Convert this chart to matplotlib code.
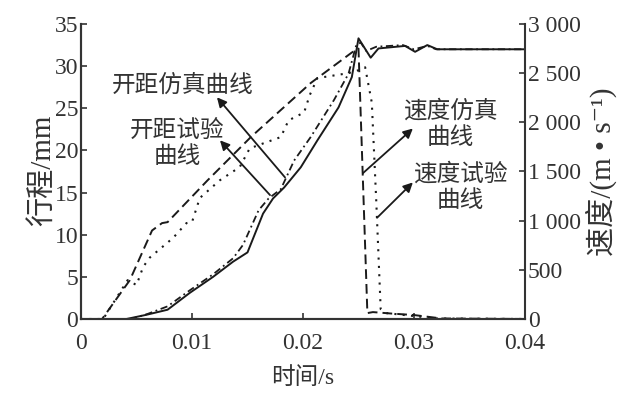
import matplotlib
matplotlib.use('Agg')
import matplotlib.pyplot as plt

plt.rcParams['font.family'] = ['Liberation Serif', 'Noto Sans CJK SC', 'DejaVu Sans']

# 开距 (stroke, mm) - left axis
t_open_sim = [0, 0.0041, 0.0059, 0.0078, 0.0098, 0.0119, 0.0137, 0.0150, 0.0164, 0.0173,
              0.0183, 0.0198, 0.0213, 0.0232, 0.0244, 0.0250, 0.0261, 0.0268, 0.0292,
              0.0301, 0.0312, 0.0321, 0.0400]
s_open_sim = [0, 0, 0.5, 1.1, 3.1, 5.0, 6.8, 7.9, 12.5, 14.3,
              15.6, 18.0, 21.2, 25.1, 28.7, 33.3, 31.0, 32.1, 32.4,
              31.7, 32.5, 32.0, 32.0]

t_open_test = [0, 0.0045, 0.0060, 0.0078, 0.0098, 0.0119, 0.0137, 0.0146, 0.0160, 0.0169,
               0.0180, 0.0192, 0.0207, 0.0228, 0.0241, 0.0248, 0.0252, 0.0257, 0.0266,
               0.0290, 0.0300, 0.0312, 0.0320, 0.0400]
s_open_test = [0, 0, 0.6, 1.5, 3.4, 5.3, 7.2, 8.8, 12.9, 14.3,
               15.4, 18.8, 21.6, 26.0, 29.1, 32.5, 32.8, 31.8, 32.3,
               32.5, 32.0, 32.4, 32.0, 32.0]

# 速度 (m/s) - right axis
t_vel_sim = [0, 0.0019, 0.0044, 0.0064, 0.0073, 0.0078, 0.0114, 0.0153, 0.0207, 0.0244,
             0.0250, 0.0258, 0.0263, 0.0280, 0.0300, 0.0325, 0.0400]
v_vel_sim = [0, 0, 395, 900, 975, 985, 1410, 1850, 2400, 2710,
             2750, 60, 70, 55, 40, 5, 0]

t_vel_test = [0, 0.0020, 0.0042, 0.0050, 0.0056, 0.0062, 0.0083, 0.0095, 0.0100, 0.0107,
              0.0125, 0.0143, 0.0152, 0.0164, 0.0180, 0.0187, 0.0201, 0.0206, 0.0213,
              0.0241, 0.0250, 0.0256, 0.0262, 0.0266, 0.0270, 0.0275, 0.0300, 0.0320, 0.0400]
v_vel_test = [0, 0, 395, 345, 530, 625, 825, 975, 985, 1230,
              1410, 1545, 1735, 1785, 1850, 2020, 2100, 2275, 2450,
              2500, 2530, 2560, 2200, 1200, 100, 60, 30, 5, 0]

x_ticks = [0, 0.01, 0.02, 0.03, 0.04]
x_labels = ['0', '0.01', '0.02', '0.03', '0.04']
left_ticks = [0, 5, 10, 15, 20, 25, 30, 35]
right_ticks = [0, 500, 1000, 1500, 2000, 2500, 3000]
right_labels = ['0', '500', '1 000', '1 500', '2 000', '2 500', '3 000']

ink = '#1a1a1a'
fig = plt.figure(figsize=(6.3, 3.94), dpi=100)
ax = fig.add_axes([0.1286, 0.1904, 0.7047, 0.7487])
ax2 = ax.twinx()

ax.plot(t_open_sim, s_open_sim, color=ink, lw=1.4, ls='-')
ax.plot(t_open_test, s_open_test, color=ink, lw=1.3, ls=(0, (4, 2, 1, 2)))
ax2.plot(t_vel_sim, v_vel_sim, color=ink, lw=1.4, ls=(0, (5, 2.6)))
ax2.plot(t_vel_test, v_vel_test, color=ink, lw=1.5, ls=(0, (1, 3)))

ax.set_xlim(0, 0.04)
ax.set_ylim(0, 35)
ax2.set_ylim(0, 3000)
ax.set_xticks(x_ticks, x_labels)
ax.set_yticks(left_ticks)
ax2.set_yticks(right_ticks, right_labels)

for a in (ax, ax2):
    a.spines['top'].set_visible(False)
    for s in a.spines.values():
        s.set_linewidth(1.5)
        s.set_color('#333333')
    a.tick_params(direction='in', length=4.5, width=1.2, labelsize=17, pad=2,
                  colors='#333333')
ax.spines['right'].set_visible(False)
ax.tick_params(axis='x', pad=10)

ax.set_xlabel('时间/s', fontsize=17, color='#333333')
ax.xaxis.set_label_coords(0.5, -0.2)
ax.xaxis.label.set_va('center')
ax.set_ylabel('行程/mm', fontsize=21, color='#333333', va='center')
ax.yaxis.set_label_coords(-0.086, 0.505)
ax2.set_ylabel('速度/(m • s⁻¹)', fontsize=21, color='#333333', va='center', rotation=90)
ax2.yaxis.set_label_coords(1.171, 0.498)

arrow = dict(arrowstyle='-|>', color=ink, lw=1.3, mutation_scale=14, shrinkA=0, shrinkB=0)
ax.annotate('', xy=(0.01225, 26.3), xytext=(0.01838, 16.8), arrowprops=arrow)
ax.annotate('', xy=(0.01252, 21.2), xytext=(0.01703, 14.7), arrowprops=arrow)
ax2.annotate('', xy=(0.0299, 1937), xytext=(0.0254, 1483), arrowprops=arrow)
ax2.annotate('', xy=(0.0299, 1389), xytext=(0.02667, 1029), arrowprops=arrow)

txt = dict(fontsize=17, color='#333333', ha='center', va='center', linespacing=1.25)
ax.text(0.00919, 27.7, '开距仿真曲线', **txt)
ax.text(0.00865, 20.8, '开距试验\n曲线', **txt)
ax2.text(0.03324, 1980, '速度仿真\n曲线', **txt)
ax2.text(0.03414, 1340, '速度试验\n曲线', **txt)

fig.savefig('out.png', dpi=100)
